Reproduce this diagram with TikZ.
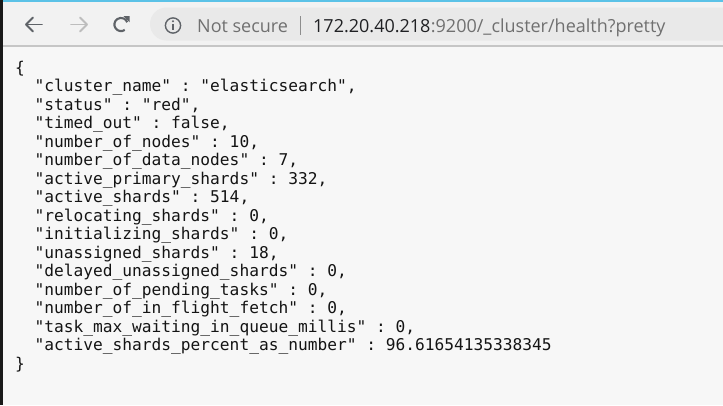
\documentclass[tikz,border=0pt]{standalone}
\usepackage{fontspec}
\setmainfont{Open Sans}
\setmonofont{DejaVu Sans Mono}
\definecolor{pagebg}{HTML}{F7F7F7}
\definecolor{barbg}{HTML}{F2F2F2}
\definecolor{pillbg}{HTML}{E9E9E9}
\definecolor{topblue}{HTML}{5BC2E7}
\definecolor{sepline}{HTML}{C6C6C6}
\definecolor{icon}{HTML}{5F6368}
\definecolor{iconlight}{HTML}{BDBDBD}
\definecolor{urlgray}{HTML}{707070}
\definecolor{urldark}{HTML}{202124}
\definecolor{code}{HTML}{141414}
\tikzset{
  codeline/.style={anchor=base west, inner sep=0pt, text=code,
    font=\ttfamily\fontsize{16.2}{18.5}\selectfont},
  bartext/.style={anchor=base west, inner sep=0pt,
    font=\fontsize{18}{20}\selectfont},
  iconline/.style={draw=icon, line width=1.9pt, line cap=round, line join=round},
}
\begin{document}
\begin{tikzpicture}[x=1pt,y=-1pt]
\useasboundingbox (0,0) rectangle (723,405);
\begin{scope}
\clip (0,0) rectangle (723,405);
% page
\fill[pagebg] (0,0) rectangle (723,405);
% toolbar
\fill[barbg] (0,0) rectangle (723,45.5);
\fill[topblue] (0,0) rectangle (723,2);
\fill[sepline] (0,45) rectangle (723,47);
% address pill
\fill[pillbg, rounded corners=16.5pt] (150,7.5) rectangle (760,40.5);
% left dark strip
\fill[black!90] (0,0) rectangle (3,405);
\end{scope}

% back arrow
\coordinate (b1) at (26,24.5);
\draw[iconline] (b1) -- (42,24.5);
\draw[iconline] (33,17.5) -- (b1) -- (33,31.5);
% forward arrow
\coordinate (f1) at (87,24.5);
\draw[iconline, draw=iconlight] (71,24.5) -- (f1);
\draw[iconline, draw=iconlight] (80,17.5) -- (f1) -- (80,31.5);
% reload
\coordinate (rc) at (121,24.5);
\draw[draw=icon, line width=2.1pt] (rc) ++(55:6.6) arc[start angle=55, end angle=340, radius=6.6];
\fill[icon] (123.5,16.2) -- (129.6,16.2) -- (129.6,22.3) -- cycle;
% info icon
\coordinate (ic) at (173,25.5);
\draw[draw=icon, line width=1.4pt] (ic) circle[radius=7.6];
\fill[icon] (173,21.3) circle[radius=1.1];
\draw[draw=icon, line width=1.7pt] (173,24) -- (173,30.2);

\node[bartext, text=urlgray] (ns) at (197,32) {Not secure};
\draw[draw=urlgray!80, line width=0.9pt] (300,16) -- (300,35);
\node[bartext, text=urldark] (host) at (313,32) {172.20.40.218};
\node[bartext, text=urlgray] (path) at (host.base east) {:9200/\_cluster/health?pretty};

% JSON body
\node[codeline] (l0) at (15,73) {\{};
\node[codeline] (l1) at (34.5,91.5) {"cluster\_name" : "elasticsearch",};
\node[codeline] (l2) at (34.5,110) {"status" : "red",};
\node[codeline] (l3) at (34.5,128.5) {"timed\_out" : false,};
\node[codeline] (l4) at (34.5,147) {"number\_of\_nodes" : 10,};
\node[codeline] (l5) at (34.5,165.5) {"number\_of\_data\_nodes" : 7,};
\node[codeline] (l6) at (34.5,184) {"active\_primary\_shards" : 332,};
\node[codeline] (l7) at (34.5,202.5) {"active\_shards" : 514,};
\node[codeline] (l8) at (34.5,221) {"relocating\_shards" : 0,};
\node[codeline] (l9) at (34.5,239.5) {"initializing\_shards" : 0,};
\node[codeline] (l10) at (34.5,258) {"unassigned\_shards" : 18,};
\node[codeline] (l11) at (34.5,276.5) {"delayed\_unassigned\_shards" : 0,};
\node[codeline] (l12) at (34.5,295) {"number\_of\_pending\_tasks" : 0,};
\node[codeline] (l13) at (34.5,313.5) {"number\_of\_in\_flight\_fetch" : 0,};
\node[codeline] (l14) at (34.5,332) {"task\_max\_waiting\_in\_queue\_millis" : 0,};
\node[codeline] (l15) at (34.5,350.5) {"active\_shards\_percent\_as\_number" : 96.61654135338345};
\node[codeline] (l16) at (15,369) {\}};
\end{tikzpicture}
\end{document}
